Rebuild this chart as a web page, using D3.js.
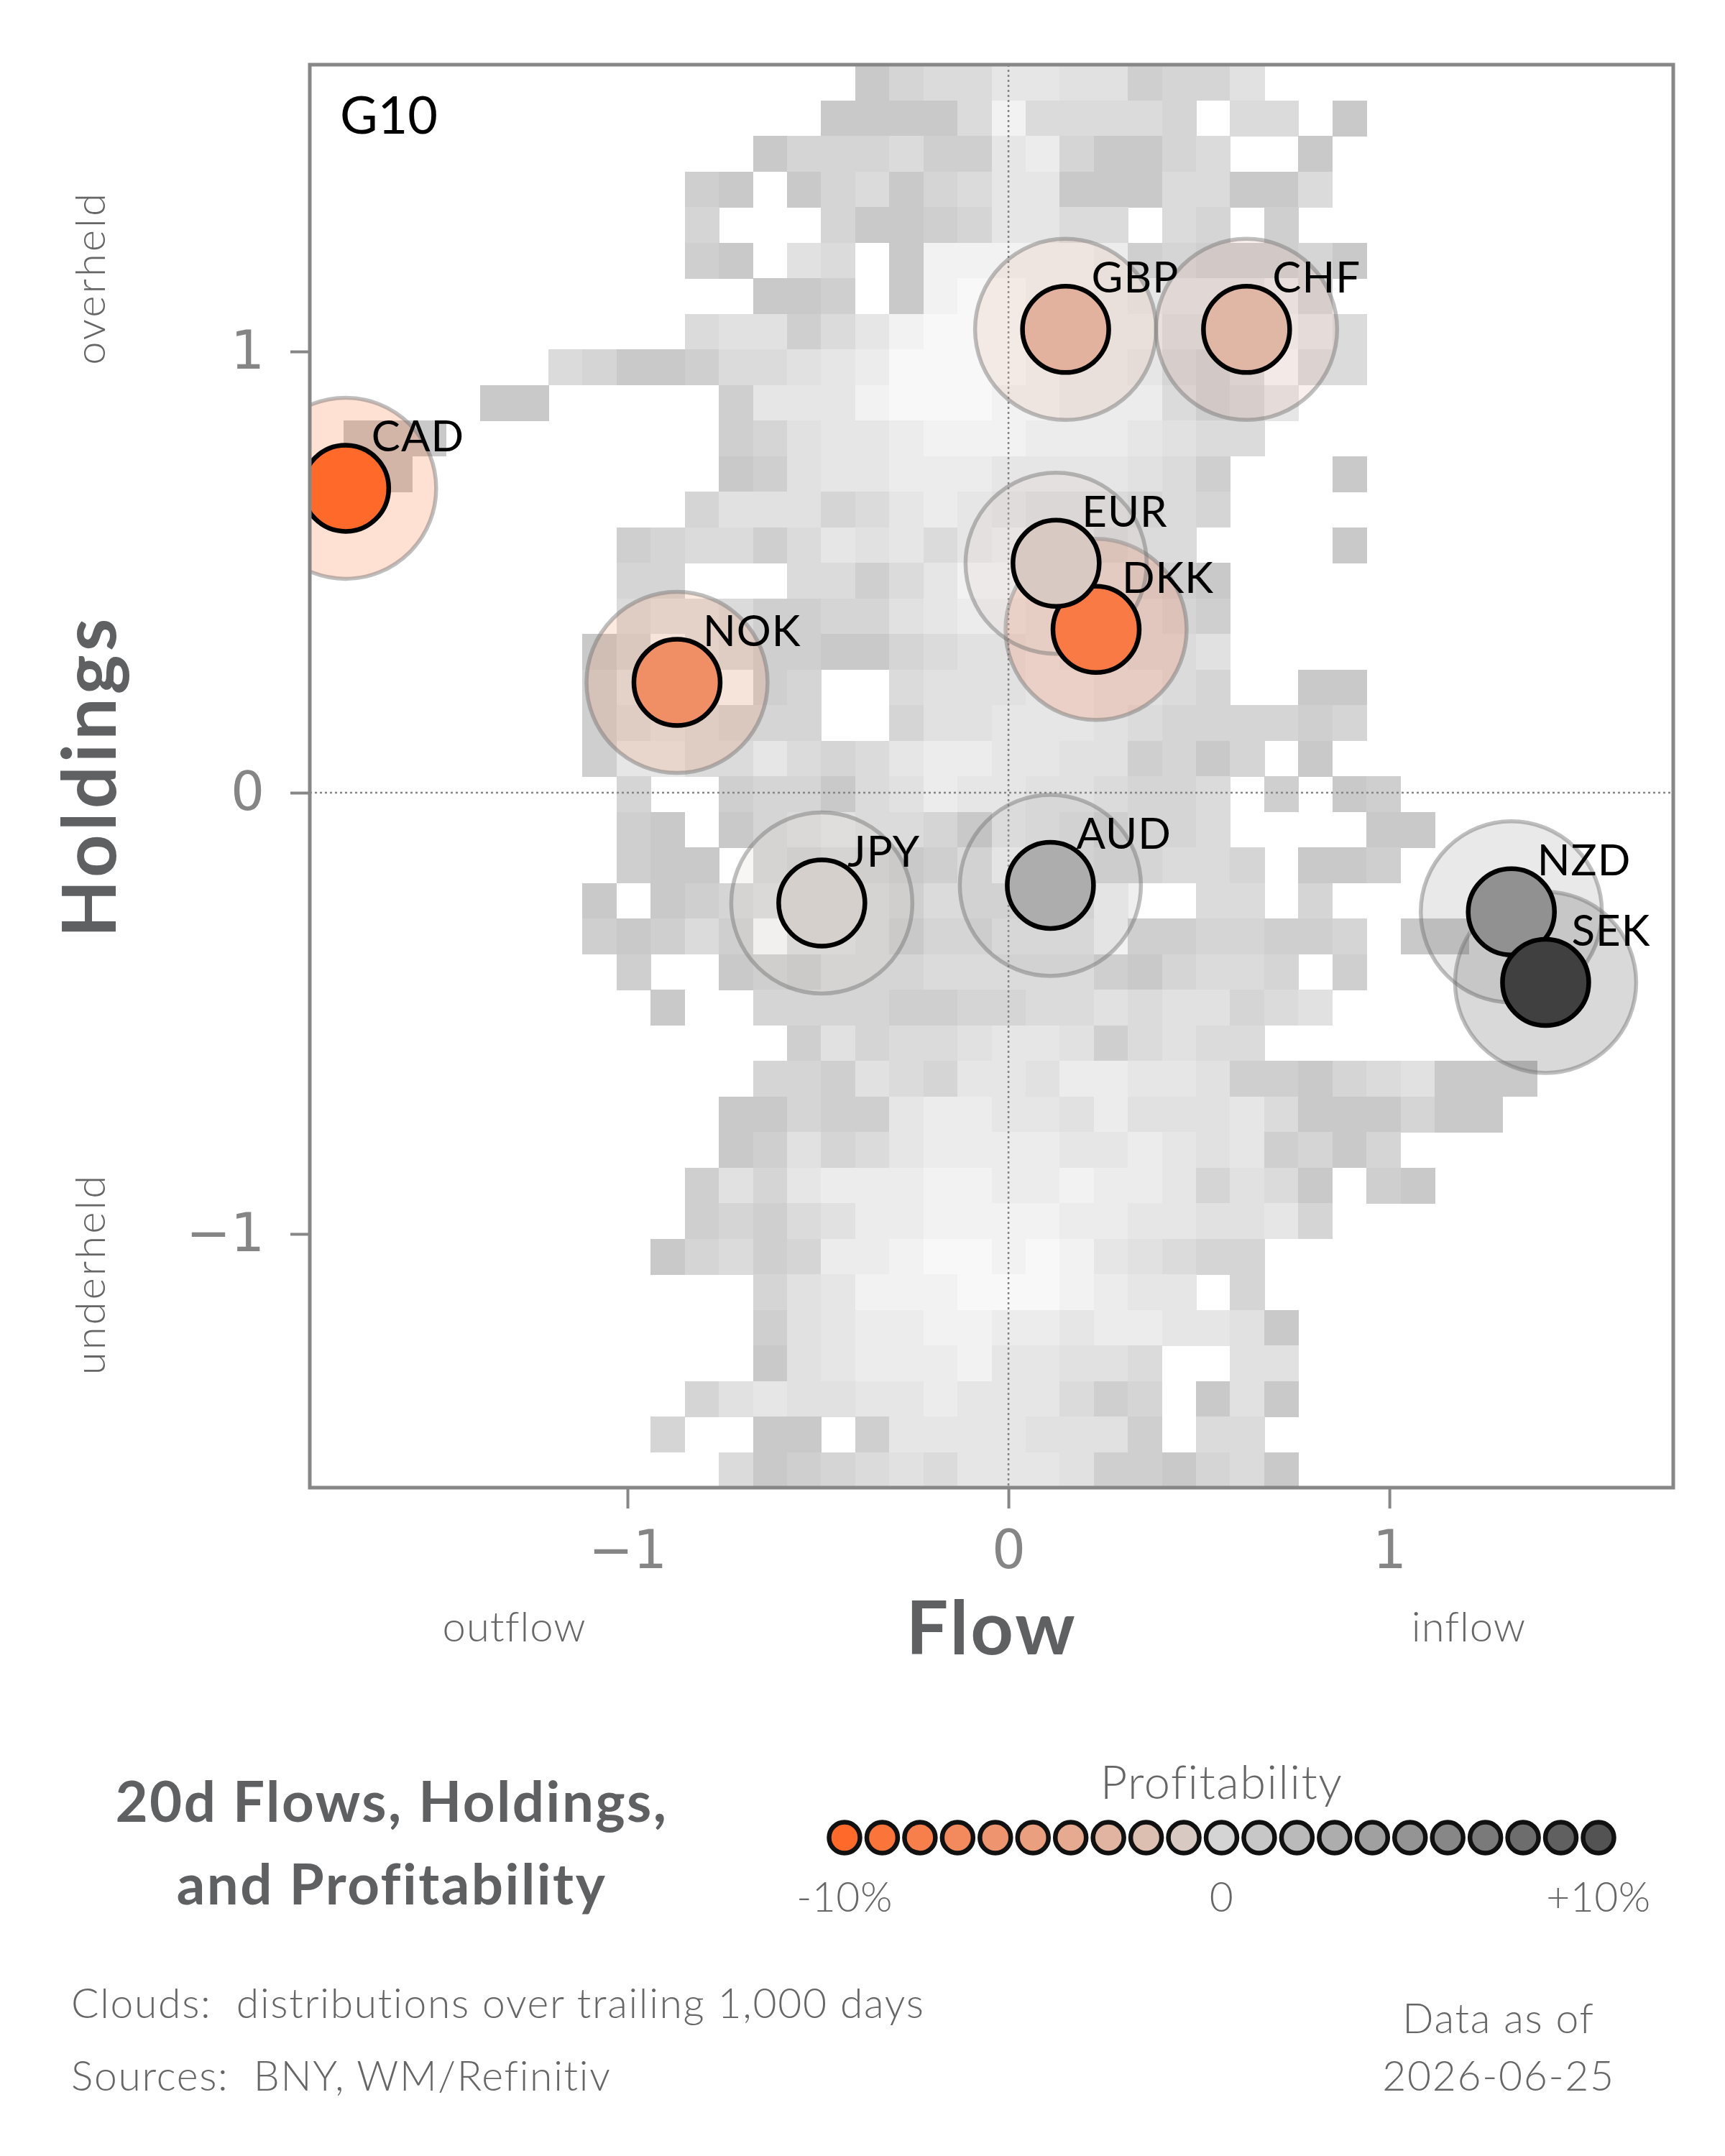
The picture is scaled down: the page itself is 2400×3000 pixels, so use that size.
<!DOCTYPE html>
<html>
<head>
<meta charset="utf-8">
<script src="https://cdn.jsdelivr.net/npm/d3@7"></script>
<style>
  body { margin: 0; background: #fff; }
  text { font-family: Lato, "Open Sans", sans-serif; }
</style>
</head>
<body>
<svg id="chart"></svg>
<script>
const width = 2400;
const height = 3000;

// currencies: 20d flow (x), holdings (y), profitability in % (colour)
const currencies = ["CAD", "NOK", "JPY", "AUD", "GBP", "CHF", "DKK", "EUR", "NZD", "SEK"];
const flows      = [-1.74, -0.87, -0.49, 0.11, 0.15, 0.625, 0.23, 0.125, 1.32, 1.41];
const holdings   = [0.69, 0.25, -0.25, -0.21, 1.05, 1.05, 0.37, 0.52, -0.27, -0.43];
const profits    = [-10, -6.5, -0.4, 3, -3.2, -2.8, -8.5, -1, 5.2, 11.5];

const flowDomain = [-1.834, 1.745];
const holdDomain = [-1.575, 1.65];
const xTicks = [-1, 0, 1];
const yTicks = [-1, 0, 1];
const legendTicks = [-10, 0, 10];
const legendTickLabels = ["-10%", "0", "+10%"];

// cloud: 40 x 40 density grid, top row first; "." = empty, 1 (sparse) .. 9 (dense)
const cloudRows = [
  "................134466552335............",
  "...............11114844443.44.1.........",
  ".............13334226731134..1..........",
  "...........21.1341346611144114..........",
  "...........3...311236644.43.2...........",
  "...........21.54.18888872322231.........",
  ".............112.1899887655573..........",
  "...........45524689999877446864.........",
  ".......431124456799998776324944.........",
  ".....11.....26668999887774236...........",
  ".111........2356678887776544............",
  ".11.........125667776666542...1.........",
  "...........3555346765444343.............",
  ".........23442465646765344....1.........",
  ".........33...4424688765321.............",
  ".........455422335677665432.............",
  "........1395422113455655445.............",
  "........2566923..4555665543..11.........",
  "........2454333..35566654333323.........",
  "........26644643467766552313.1..........",
  ".........3..233145766554334.2.12........",
  ".........21.134544316542334....11.......",
  ".........211.323212485433443.112........",
  "........1.12344432444448..44.3..........",
  "........21242944313355582233223.11......",
  ".........2..12133344444213443.2.........",
  "..........1..33332233445455345..........",
  "..............25344566524544............",
  ".............33254366577665221345111....",
  "............11322677665755564111311.....",
  "............12534677776676562313........",
  "...........2536777887787763541.21.......",
  "...........2324577888877665563..........",
  "..........134237789989865433............",
  ".............3568889998766.3............",
  ".............2567788776776651...........",
  ".............156777866554..55...........",
  "...........35655667666423.151...........",
  "..........3..11.266665552.44............",
  "............41234546665221341..........."
];

const svg = d3.select("#chart")
  .attr("width", width)
  .attr("height", height);

const plot = { left: 431, right: 2328, top: 90, bottom: 2070 };

const x = d3.scaleLinear().domain(flowDomain).range([plot.left, plot.right]);
const y = d3.scaleLinear().domain(holdDomain).range([plot.bottom, plot.top]);

const profitColor = d3.scaleLinear()
  .domain([-10, 0, 10])
  .range(["#ff6a2a", "#d4d4d4", "#535353"]);

const cloudColor = d3.scaleLinear().domain([1, 9]).range(["#c9c9c9", "#f8f8f8"]);

svg.append("defs").append("clipPath")
  .attr("id", "plot-clip")
  .append("rect")
  .attr("x", plot.left)
  .attr("y", plot.top)
  .attr("width", plot.right - plot.left)
  .attr("height", plot.bottom - plot.top);

const inner = svg.append("g").attr("clip-path", "url(#plot-clip)");

// cloud cells
const nRows = cloudRows.length;
const nCols = cloudRows[0].length;
const colEdge = d3.scaleLinear().domain([0, nCols]).range(flowDomain);
const rowEdge = d3.scaleLinear().domain([0, nRows]).range([holdDomain[1], holdDomain[0]]);

const cells = [];
cloudRows.forEach((row, r) => {
  row.split("").forEach((ch, c) => {
    if (ch !== ".") cells.push({ r: r, c: c, level: +ch });
  });
});

inner.append("g")
  .attr("shape-rendering", "crispEdges")
  .selectAll("rect")
  .data(cells)
  .join("rect")
  .attr("x", d => x(colEdge(d.c)))
  .attr("y", d => y(rowEdge(d.r)))
  .attr("width", d => x(colEdge(d.c + 1)) - x(colEdge(d.c)) + 0.6)
  .attr("height", d => y(rowEdge(d.r + 1)) - y(rowEdge(d.r)) + 0.6)
  .attr("fill", d => cloudColor(d.level));

// zero lines
inner.append("line")
  .attr("x1", x(0)).attr("x2", x(0))
  .attr("y1", plot.top).attr("y2", plot.bottom)
  .attr("stroke", "#858585")
  .attr("stroke-width", 2.5)
  .attr("stroke-dasharray", "3,4");

inner.append("line")
  .attr("x1", plot.left).attr("x2", plot.right)
  .attr("y1", y(0)).attr("y2", y(0))
  .attr("stroke", "#858585")
  .attr("stroke-width", 2.5)
  .attr("stroke-dasharray", "3,4");

const points = currencies.map((c, i) => ({
  name: c, flow: flows[i], hold: holdings[i], profit: profits[i]
}));

// halos
inner.append("g")
  .selectAll("circle")
  .data(points)
  .join("circle")
  .attr("cx", d => x(d.flow))
  .attr("cy", d => y(d.hold))
  .attr("r", 126)
  .attr("fill", d => profitColor(d.profit))
  .attr("fill-opacity", 0.2)
  .attr("stroke", "#727272")
  .attr("stroke-opacity", 0.45)
  .attr("stroke-width", 5.5);

// bubbles
inner.append("g")
  .selectAll("circle")
  .data(points)
  .join("circle")
  .attr("cx", d => x(d.flow))
  .attr("cy", d => y(d.hold))
  .attr("r", 60)
  .attr("fill", d => profitColor(d.profit))
  .attr("stroke", "#000")
  .attr("stroke-width", 6.5);

inner.append("g")
  .selectAll("text")
  .data(points)
  .join("text")
  .attr("x", d => x(d.flow) + 36)
  .attr("y", d => y(d.hold) - 51)
  .attr("font-size", 60)
  .attr("letter-spacing", 1)
  .attr("fill", "#000")
  .text(d => d.name);

inner.append("text")
  .attr("x", plot.left + 42)
  .attr("y", plot.top + 96)
  .attr("font-size", 72)
  .attr("fill", "#000")
  .text("G10");

// axes
const yAxis = svg.append("g")
  .attr("transform", "translate(" + plot.left + ",0)")
  .call(d3.axisLeft(y).tickValues(yTicks).tickFormat(d3.format("d")).tickSize(27).tickPadding(36));

const xAxis = svg.append("g")
  .attr("transform", "translate(0," + plot.bottom + ")")
  .call(d3.axisBottom(x).tickValues(xTicks).tickFormat(d3.format("d")).tickSize(29).tickPadding(30));

[xAxis, yAxis].forEach(ax => {
  ax.select(".domain").remove();
  ax.selectAll(".tick line").attr("stroke", "#878787").attr("stroke-width", 4);
  ax.selectAll(".tick text")
    .attr("fill", "#858585")
    .attr("font-size", 74)
    .style("font-family", "'DejaVu Sans', sans-serif");
});

svg.append("rect")
  .attr("x", plot.left)
  .attr("y", plot.top)
  .attr("width", plot.right - plot.left)
  .attr("height", plot.bottom - plot.top)
  .attr("fill", "none")
  .attr("stroke", "#878787")
  .attr("stroke-width", 5);

// axis titles
const plotW = plot.right - plot.left;
const plotH = plot.bottom - plot.top;

svg.append("text")
  .attr("x", plot.left + plotW / 2)
  .attr("y", 2302)
  .attr("text-anchor", "middle")
  .attr("font-size", 104)
  .attr("font-weight", 700)
  .attr("letter-spacing", 3)
  .attr("fill", "#5f6062")
  .text("Flow");

svg.append("text")
  .attr("x", plot.left + plotW * 0.15)
  .attr("y", 2284)
  .attr("text-anchor", "middle")
  .attr("font-size", 58)
  .attr("font-weight", 300)
  .attr("letter-spacing", 1)
  .attr("fill", "#666")
  .text("outflow");

svg.append("text")
  .attr("x", plot.left + plotW * 0.85)
  .attr("y", 2284)
  .attr("text-anchor", "middle")
  .attr("font-size", 58)
  .attr("font-weight", 300)
  .attr("letter-spacing", 1)
  .attr("fill", "#666")
  .text("inflow");

svg.append("text")
  .attr("transform", "translate(161," + (plot.top + plotH / 2) + ") rotate(-90)")
  .attr("text-anchor", "middle")
  .attr("font-size", 104)
  .attr("font-weight", 700)
  .attr("letter-spacing", 5)
  .attr("fill", "#5f6062")
  .text("Holdings");

svg.append("text")
  .attr("transform", "translate(146," + (plot.top + plotH * 0.15) + ") rotate(-90)")
  .attr("text-anchor", "middle")
  .attr("font-size", 58)
  .attr("font-weight", 300)
  .attr("letter-spacing", 3)
  .attr("fill", "#666")
  .text("overheld");

svg.append("text")
  .attr("transform", "translate(146," + (plot.top + plotH * 0.85) + ") rotate(-90)")
  .attr("text-anchor", "middle")
  .attr("font-size", 58)
  .attr("font-weight", 300)
  .attr("letter-spacing", 3)
  .attr("fill", "#666")
  .text("underheld");

// title
const title = svg.append("text")
  .attr("text-anchor", "middle")
  .attr("font-size", 78)
  .attr("font-weight", 700)
  .attr("letter-spacing", 2.5)
  .attr("fill", "#5f6062");
title.append("tspan").attr("x", 545).attr("y", 2535).text("20d Flows, Holdings,");
title.append("tspan").attr("x", 545).attr("y", 2650).text("and Profitability");

// legend
const legendX = d3.scaleLinear().domain([-10, 10]).range([1175, 2224]);

svg.append("text")
  .attr("x", legendX(0))
  .attr("y", 2503)
  .attr("text-anchor", "middle")
  .attr("font-size", 65)
  .attr("font-weight", 300)
  .attr("letter-spacing", 1.5)
  .attr("fill", "#666")
  .text("Profitability");

svg.append("g")
  .selectAll("circle")
  .data(d3.range(-10, 11))
  .join("circle")
  .attr("cx", d => legendX(d))
  .attr("cy", 2557)
  .attr("r", 21.5)
  .attr("fill", d => profitColor(d))
  .attr("stroke", "#111")
  .attr("stroke-width", 6.5);

svg.append("g")
  .selectAll("text")
  .data(legendTicks)
  .join("text")
  .attr("x", d => legendX(d))
  .attr("y", 2660)
  .attr("text-anchor", "middle")
  .attr("font-size", 57)
  .attr("font-weight", 300)
  .attr("letter-spacing", 0.5)
  .attr("fill", "#666")
  .text((d, i) => legendTickLabels[i]);

// notes
svg.append("text")
  .attr("x", 99)
  .attr("y", 2808)
  .attr("font-size", 57)
  .attr("font-weight", 300)
  .attr("letter-spacing", 1.7)
  .attr("fill", "#666")
  .style("white-space", "pre")
  .text("Clouds:  distributions over trailing 1,000 days");

svg.append("text")
  .attr("x", 99)
  .attr("y", 2909)
  .attr("font-size", 57)
  .attr("font-weight", 300)
  .attr("letter-spacing", 1.7)
  .attr("fill", "#666")
  .style("white-space", "pre")
  .text("Sources:  BNY, WM/Refinitiv");

const asOf = svg.append("text")
  .attr("text-anchor", "middle")
  .attr("font-size", 57)
  .attr("font-weight", 300)
  .attr("letter-spacing", 1.7)
  .attr("fill", "#666");
asOf.append("tspan").attr("x", 2085).attr("y", 2829).text("Data as of");
asOf.append("tspan").attr("x", 2085).attr("y", 2909).text("2026-06-25");
</script>
</body>
</html>
